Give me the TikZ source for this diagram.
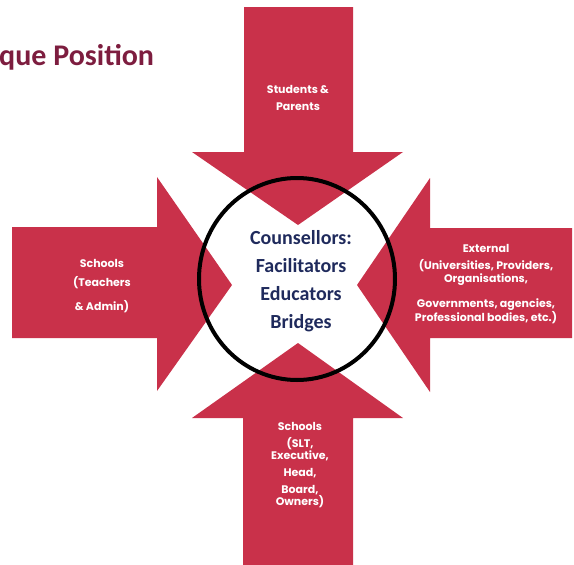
\documentclass[tikz,border=0pt]{standalone}
\usepackage{fontspec}
\setmainfont{Carlito}
\newfontfamily\arrowfont{Poppins}
\usetikzlibrary{positioning,calc}
\definecolor{arrowred}{RGB}{201,49,74}
\definecolor{titlered}{RGB}{125,29,63}
\definecolor{rolenavy}{RGB}{31,42,92}

\begin{document}
\begin{tikzpicture}[x=1pt, y=-1pt,
      bigarrow/.style={fill=arrowred},
      arrowtext/.style={text=white, align=center, inner sep=0pt,
        font=\arrowfont\bfseries\fontsize{11}{12}\selectfont},
      roletext/.style={text=rolenavy, align=center, inner sep=0pt,
        font=\bfseries\fontsize{20}{28}\selectfont}
  ]
    \useasboundingbox (0,0) rectangle (574,565);
    % title, cut off at the left edge
    \node[anchor=base west, inner sep=0pt, text=titlered,
      font=\bfseries\fontsize{30}{32}\selectfont] (title) at (-1,65) {que Position};
    % the four arrows pointing to the middle
    \fill[bigarrow] (244,7) -- (353,7) -- (353,152) -- (403,152) -- (298,225)
      -- (192,152) -- (244,152) -- cycle;
    \fill[bigarrow] (12,227) -- (157,227) -- (157,177) -- (232,285) -- (157,391)
      -- (157,338) -- (12,338) -- cycle;
    \fill[bigarrow] (572,228) -- (430,228) -- (430,178) -- (357,285) -- (430,392)
      -- (430,338) -- (572,338) -- cycle;
    \fill[bigarrow] (243,565) -- (353,565) -- (353,418) -- (403,418) -- (298,343)
      -- (192,418) -- (243,418) -- cycle;
    % circle and roles
    \draw[line width=4pt] (297,279) ellipse [x radius=98, y radius=101];
    \node[roletext] (roles) at (301,281)
      {Counsellors:\\Facilitators\\Educators\\Bridges};
    % arrow labels
    \node[arrowtext] (students) at (298,98) {Students \&\\[5pt]Parents};
    \node[arrowtext] (teachers) at (102,286)
      {Schools\\[7pt](Teachers\\[10pt]\& Admin)};
    \node[arrowtext] (external) at (486,284)
      {External\\[5pt](Universities, Providers,\\[1pt]Organisations,\\[13pt]%
       Governments, agencies,\\[0pt]Professional bodies, etc.)};
    \node[arrowtext] (leaders) at (300,465)
      {Schools\\[5pt](SLT,\\[0pt]Executive,\\[5pt]Head,\\[5pt]Board,\\[0pt]Owners)};
  \end{tikzpicture}
\end{document}
